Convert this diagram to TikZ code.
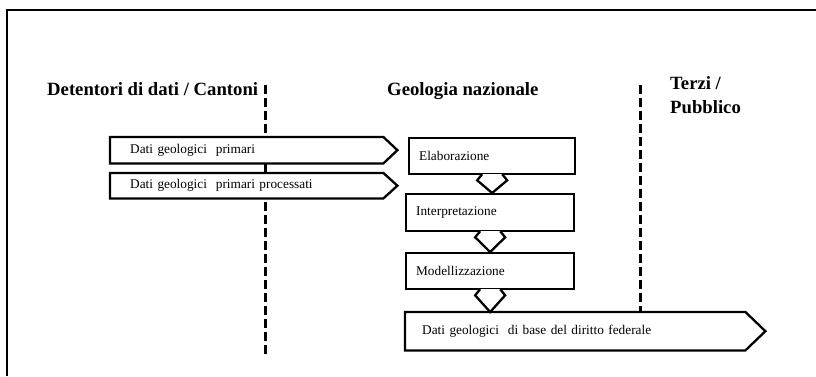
\documentclass[tikz,border=0pt]{standalone}
\usepackage{fontspec}
\setmainfont{Liberation Serif}
\usetikzlibrary{backgrounds,calc}
\begin{document}
\begin{tikzpicture}[x=1pt,y=-1pt,
  lw/.style={line width=2.3pt},
  shapeline/.style={lw, draw=black, fill=white, line join=miter},
  divider/.style={line width=3pt, dash pattern=on 9pt off 4pt},
  boxtext/.style={font=\fontsize{13.3}{15}\selectfont},
  procbox/.style={draw, lw, fill=white, anchor=north west, align=left,
    inner xsep=10pt, inner ysep=0pt, boxtext},
  arrowlabel/.style={anchor=north west, align=left, inner xsep=20pt,
    inner ysep=0pt, boxtext},
  heading/.style={font=\bfseries\fontsize{18.7}{22}\selectfont, inner sep=0pt, anchor=base west}
]
\useasboundingbox (0,0) rectangle (816,376);

% headings
\node[heading] (h1) at (47,95) {Detentori di dati / Cantoni};
\node[heading] (h2) at (387,95) {Geologia nazionale};
\node[heading] (h3) at (670,89) {Terzi /};
\node[heading] (h4) at (670,113) {Pubblico};

% process boxes
\node[procbox, minimum width=166pt, minimum height=36pt, text width=146pt] (elab) at (408,137) {Elaborazione};
\node[procbox, minimum width=168pt, minimum height=37pt, text width=148pt] (interp) at (405,193) {Interpretazione};
\node[procbox, minimum width=168pt, minimum height=36pt, text width=148pt] (model) at (405,252) {Modellizzazione};

% arrow-shaped labels (outlines drawn on background layer)
\node[arrowlabel, minimum width=273pt, minimum height=26pt, text width=233pt] (prim) at (110,137) {Dati geologici\ \ primari};
\node[arrowlabel, minimum width=273pt, minimum height=25pt, text width=233pt] (proc) at (110,173) {Dati geologici\ \ primari processati};
\node[arrowlabel, inner xsep=17pt, minimum width=340pt, minimum height=38pt, text width=306pt] (fed) at (405,312) {Dati geologici\ \ di base del diritto federale};

\coordinate (d1top) at (265,85);
\coordinate (d1bot) at (265,357);
\coordinate (d2top) at (640,85);

\begin{scope}[on background layer]
  \fill[white] (0,0) rectangle (816,376);
  \draw[line width=2pt] (7,376) -- (7,10) -- (816,10);
  \draw[divider] (d1top) -- (d1bot);
  \draw[divider] (d2top) -- (d2top |- fed.north);
  \draw[shapeline] (prim.north west) -- (prim.north east) -- ([xshift=14pt]prim.east) -- (prim.south east) -- (prim.south west) -- cycle;
  \draw[shapeline] (proc.north west) -- (proc.north east) -- ([xshift=14pt]proc.east) -- (proc.south east) -- (proc.south west) -- cycle;
  \draw[shapeline] (fed.north west) -- (fed.north east) -- ([xshift=20pt]fed.east) -- (fed.south east) -- (fed.south west) -- cycle;
\end{scope}

% chevron connectors
\draw[shapeline] ([xshift=-10pt,yshift=1.1pt]elab.south) -- ([xshift=-15pt,yshift=-5pt]elab.south) -- (elab.south |- interp.north) -- ([xshift=15pt,yshift=-5pt]elab.south) -- ([xshift=10pt,yshift=1.1pt]elab.south);
\draw[shapeline] ([xshift=-10pt,yshift=1.1pt]interp.south) -- ([xshift=-15pt,yshift=-5pt]interp.south) -- (interp.south |- model.north) -- ([xshift=15pt,yshift=-5pt]interp.south) -- ([xshift=10pt,yshift=1.1pt]interp.south);
\draw[shapeline] ([xshift=-10pt,yshift=1.1pt]model.south) -- ([xshift=-15pt,yshift=-5pt]model.south) -- (model.south |- fed.north) -- ([xshift=15pt,yshift=-5pt]model.south) -- ([xshift=10pt,yshift=1.1pt]model.south);
\end{tikzpicture}
\end{document}
